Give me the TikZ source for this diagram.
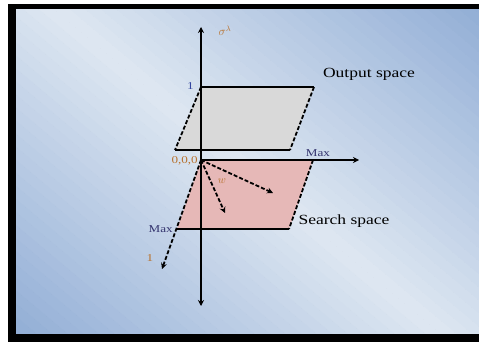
\documentclass[tikz,border=0pt]{standalone}
\usepackage{fontspec}
\setmainfont{Liberation Serif}[FakeStretch=1.25]
\usetikzlibrary{arrows.meta}
\definecolor{bgblue}{HTML}{93AFD6}
\definecolor{bglight}{HTML}{DEE7F2}
\definecolor{outgray}{HTML}{D9D9D9}
\definecolor{srchpink}{HTML}{E6B8B7}
\definecolor{lblnavy}{HTML}{34346E}
\definecolor{lblorange}{HTML}{B8722E}
\definecolor{lblblue}{HTML}{3446A0}

\begin{document}
\begin{tikzpicture}[
      x=1pt, y=-1pt,
      axis/.style={line width=1.8pt, black},
      dsh/.style={line width=1.8pt, black, dash pattern=on 4pt off 2pt},
      edge/.style={line width=1.4pt, black},
      tip/.style={-{Stealth[length=6pt,width=6pt]}},
      bothtip/.style={{Stealth[length=6pt,width=6pt]}-{Stealth[length=6pt,width=6pt]}},
      big/.style={font=\fontsize{14}{14}\selectfont, inner sep=0pt},
      small/.style={font=\fontsize{10.5}{10.5}\selectfont, inner sep=0pt},
    ]
    % frame and background
    \useasboundingbox (0,0) rectangle (479,342);
    \fill[white] (0,0) rectangle (479,342);
    \fill[black] (8,4) rectangle (479,342);
    \begin{scope}
      \clip (16,10) rectangle (479,333);
      \foreach \i in {-30,...,29} {
        \pgfmathsetmacro\p{max(0,100-abs(\i*10+5)/2.7)}
        \fill[bglight!\p!bgblue, rotate around={-40:(247,171)}]
          (-400,171+\i*10) rectangle (900,171+\i*10+10.6);
      }
    \end{scope}

    % points
    \coordinate (o)    at (201,160);
    \coordinate (ztop) at (201,27);
    \coordinate (zbot) at (201,306);
    \coordinate (xend) at (359,160);
    \coordinate (yend) at (162,269);
    \coordinate (oa) at (201,87);
    \coordinate (ob) at (314,87);
    \coordinate (oc) at (290,150);
    \coordinate (od) at (175,150);
    \coordinate (se) at (313,160);
    \coordinate (sf) at (289,229);
    \coordinate (sg) at (177,229);
    \coordinate (v1) at (273,193);
    \coordinate (v2) at (225,213);

    % output space
    \fill[outgray] (oa) -- (ob) -- (oc) -- (od) -- cycle;
    \draw[edge] (oa) -- (ob);
    \draw[edge] (od) -- (oc);
    \draw[dsh] (oa) -- (od);
    \draw[dsh] (ob) -- (oc);

    % search space
    \fill[srchpink] (o) -- (se) -- (sf) -- (sg) -- cycle;
    \draw[edge] (sg) -- (sf);
    \draw[dsh] (se) -- (sf);

    % axes
    \draw[axis, bothtip] (ztop) -- (zbot);
    \draw[axis, tip] (o) -- (xend);
    \draw[dsh, tip] (o) -- (yend);
    \draw[dsh, tip] (o) -- (v1);
    \draw[dsh, tip] (o) -- (v2);

    % labels
    \node[small, text=lblorange, font=\fontsize{12}{12}\selectfont] (sig) at (225,31) {$\sigma^{\lambda}$};
    \node[big] (outl) at (369,74) {Output space};
    \node[big] (srch) at (344,221) {Search space};
    \node[small, text=lblblue, anchor=east] (one1) at (194,86) {1};
    \node[small, text=lblorange, anchor=east] (orig) at (198,161) {0,0,0};
    \node[small, text=lblnavy] (maxx) at (318,153) {Max};
    \node[small, text=lblnavy, anchor=east] (maxy) at (173,229) {Max};
    \node[small, text=lblorange] (w) at (222,181) {$w$};
    \node[small, text=lblorange] (one2) at (150,258) {1};
  \end{tikzpicture}
\end{document}
